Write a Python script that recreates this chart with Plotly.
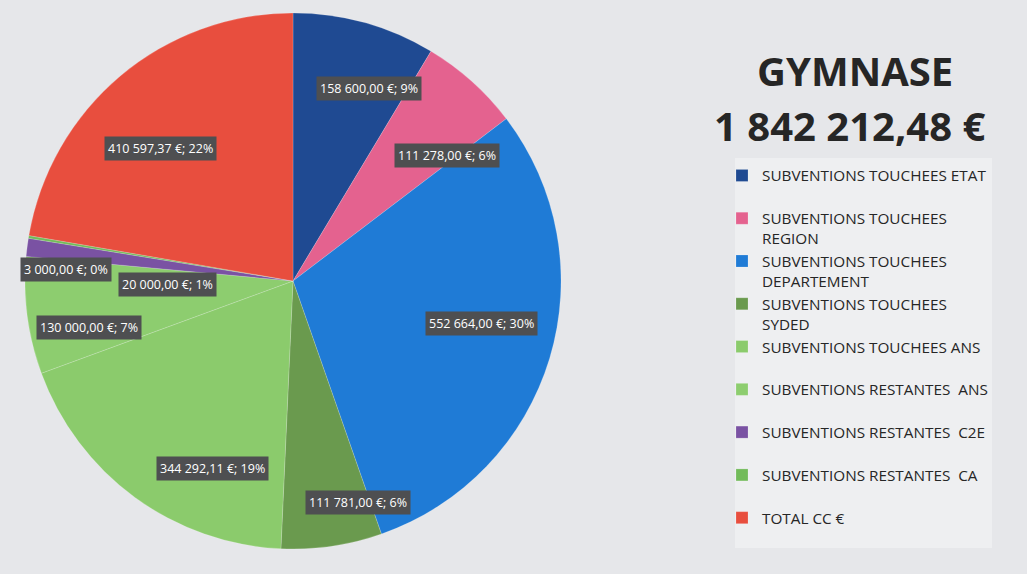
import math
import plotly.graph_objects as go

# ---- data ----
categories = [
    "SUBVENTIONS TOUCHEES ETAT",
    "SUBVENTIONS TOUCHEES<br>REGION",
    "SUBVENTIONS TOUCHEES<br>DEPARTEMENT",
    "SUBVENTIONS TOUCHEES<br>SYDED",
    "SUBVENTIONS TOUCHEES ANS",
    "SUBVENTIONS RESTANTES  ANS",
    "SUBVENTIONS RESTANTES  C2E",
    "SUBVENTIONS RESTANTES  CA",
    "TOTAL CC €",
]
values = [158600.00, 111278.00, 552664.00, 111781.00, 344292.11,
          130000.00, 20000.00, 3000.00, 410597.37]
title_lines = ["GYMNASE", "1 842 212,48 €"]

# ---- styles ----
colors = ["#1f4a92", "#e4628f", "#1f7bd6", "#6a9a4e", "#8bcb6c",
          "#8dcd6f", "#7a52a3", "#72bb5a", "#e84e3e"]
# label placement tweaks (fraction of radius, angular shift in degrees)
label_radius = [0.77, 0.74, 0.72, 0.86, 0.76, 0.78, 0.47, 0.85, 0.70]
label_shift = [6, 9, -4, -8, -13, -5.5, -9, -6.5, -5]

W, H = 1027, 574
dom_x = [25 / W, 561 / W]
dom_y = [1 - 551 / H, 1 - 11 / H]


def fr_money(v):
    s = f"{v:,.2f}"
    ent, dec = s.split(".")
    return ent.replace(",", " ") + "," + dec + " €"


# legend labels padded to two lines so entries are evenly spaced
legend_labels = [c if "<br>" in c else c + "<br>\u00a0" for c in categories]

fig = go.Figure()
fig.add_trace(go.Pie(
    labels=legend_labels,
    values=values,
    marker=dict(colors=colors, line=dict(color="rgba(255,255,255,0.35)", width=0.5)),
    sort=False,
    direction="clockwise",
    rotation=0,
    textinfo="none",
    domain=dict(x=dom_x, y=dom_y),
    hovertemplate="%{label}<br>%{value}<extra></extra>",
))

# data labels (boxed), placed around each slice's mid-angle
total = sum(values)
cx = (dom_x[0] + dom_x[1]) / 2 * W
cy = (1 - (dom_y[0] + dom_y[1]) / 2) * H
R = min((dom_x[1] - dom_x[0]) * W, (dom_y[1] - dom_y[0]) * H) / 2
cum = 0.0
for v, f, sh in zip(values, label_radius, label_shift):
    mid = (cum + v / 2) / total * 2 * math.pi + math.radians(sh)
    cum += v
    px = cx + R * f * math.sin(mid)
    py = cy - R * f * math.cos(mid)
    pct = round(v / total * 100)
    fig.add_annotation(
        x=px / W, y=1 - py / H, xref="paper", yref="paper",
        xanchor="center", yanchor="middle",
        text=f"{fr_money(v)}; {pct}%", showarrow=False,
        font=dict(family="Open Sans", size=12.5, color="white"),
        bgcolor="#4e4f51", borderpad=3,
    )

# title block
fig.add_annotation(x=855 / W, y=1 - 71 / H, xref="paper", yref="paper",
                   xanchor="center", yanchor="middle",
                   text=f"<b>{title_lines[0]}</b>", showarrow=False,
                   font=dict(family="Open Sans", size=40, color="#262626"))
fig.add_annotation(x=849 / W, y=1 - 126 / H, xref="paper", yref="paper",
                   xanchor="center", yanchor="middle",
                   text=f"<b>{title_lines[1]}</b>", showarrow=False,
                   font=dict(family="Open Sans", size=40, color="#262626"))

fig.add_shape(type="rect", xref="paper", yref="paper",
              x0=735 / W, x1=992 / W, y0=1 - 548 / H, y1=1 - 158 / H,
              fillcolor="#eeeff1", line=dict(width=0), layer="below")

fig.update_layout(
    width=W, height=H,
    margin=dict(l=0, r=0, t=0, b=0),
    paper_bgcolor="#e6e7ea",
    plot_bgcolor="#e6e7ea",
    showlegend=True,
    legend=dict(
        x=722 / W, y=1 - 159 / H, xanchor="left", yanchor="top",
        font=dict(family="Open Sans", size=15.3, color="#262626"),
        valign="top", itemwidth=30, bgcolor="rgba(0,0,0,0)",
        traceorder="normal",
    ),
)

fig.write_html("out.html")
